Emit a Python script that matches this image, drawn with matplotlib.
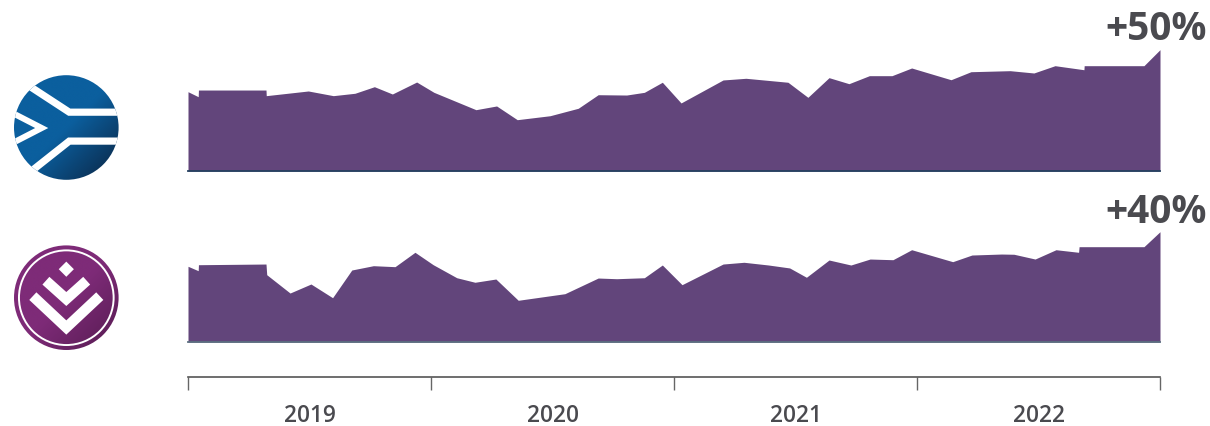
import matplotlib
matplotlib.use("Agg")
import matplotlib.pyplot as plt
import numpy as np
from matplotlib.patches import Circle, Polygon
from matplotlib.lines import Line2D
from matplotlib.colors import LinearSegmentedColormap

# ---------------- data ----------------
year_labels = ["2019", "2020", "2021", "2022"]
year_edges = [2019, 2020, 2021, 2022, 2023]

# top series (index, start = 100), time in decimal years
top_t = [2019.000, 2019.042, 2019.043, 2019.321, 2019.322, 2019.495, 2019.598, 2019.687,
         2019.767, 2019.841, 2019.941, 2020.012, 2020.185, 2020.270, 2020.355, 2020.490,
         2020.606, 2020.688, 2020.805, 2020.878, 2020.952, 2021.029, 2021.202, 2021.296,
         2021.469, 2021.551, 2021.638, 2021.720, 2021.804, 2021.897, 2021.978, 2022.140,
         2022.222, 2022.383, 2022.481, 2022.568, 2022.687, 2022.688, 2022.934, 2023.000]
top_v = [100.0, 93.7, 102.1, 102.1, 95.0, 100.9, 95.0, 98.0,
         106.3, 97.1, 112.2, 99.2, 77.3, 82.0, 64.7, 69.7,
         79.1, 96.2, 95.8, 99.2, 111.9, 85.8, 114.8, 116.9,
         111.9, 92.9, 117.7, 110.1, 120.2, 120.2, 129.9, 115.1,
         125.2, 126.5, 123.6, 132.8, 127.7, 132.8, 132.8, 153.0]

# bottom series (index, start = 100)
bot_t = [2019.000, 2019.042, 2019.043, 2019.321, 2019.324, 2019.420, 2019.506, 2019.595,
         2019.674, 2019.763, 2019.852, 2019.934, 2020.009, 2020.106, 2020.181, 2020.267,
         2020.359, 2020.551, 2020.688, 2020.764, 2020.878, 2020.952, 2021.033, 2021.202,
         2021.288, 2021.389, 2021.476, 2021.545, 2021.638, 2021.728, 2021.807, 2021.901,
         2021.978, 2022.147, 2022.226, 2022.348, 2022.399, 2022.486, 2022.572, 2022.665,
         2022.667, 2022.934, 2023.000]
bot_v = [100.0, 94.2, 102.1, 103.0, 88.9, 64.7, 76.6, 58.5,
         95.1, 100.8, 99.5, 118.5, 102.1, 84.9, 78.9, 83.2,
         55.1, 63.8, 84.5, 83.6, 84.9, 101.7, 75.7, 103.0,
         105.3, 101.7, 97.8, 85.5, 108.3, 101.7, 109.6, 108.7,
         121.9, 106.1, 114.9, 116.2, 115.9, 109.6, 121.9, 118.5,
         125.9, 125.9, 145.7]

top_label = "+50%"
bot_label = "+40%"

# ---------------- style ----------------
W, H, DPI = 1210, 427, 100
AREA = "#62457b"
TEXT = "#4a4a4f"
FONT = ["Open Sans", "DejaVu Sans"]
plt.rcParams["font.family"] = FONT

fig = plt.figure(figsize=(W / DPI, H / DPI), dpi=DPI)
fig.patch.set_facecolor("white")


def px_axes(x0, y0, x1, y1):
    """axes from a pixel box (y measured from the top)"""
    return fig.add_axes([x0 / W, 1 - y1 / H, (x1 - x0) / W, (y1 - y0) / H])


def area_axes(y_top, y_base, px_per_100, t, v, base_color):
    ax = px_axes(188, y_top, 1160, y_base)
    ax.fill_between(t, 0, v, color=AREA, linewidth=0, zorder=2)
    ax.set_xlim(year_edges[0], year_edges[-1])
    ax.set_ylim(0, (y_base - y_top) / px_per_100 * 100)
    ax.axhline(0, color=base_color, lw=1.3, clip_on=False, zorder=3)
    ax.axis("off")
    return ax


area_axes(40, 172, 79.3, top_t, top_v, "#24405f")
area_axes(211, 343, 75.7, bot_t, bot_v, "#5b6f80")

fig.text(1207 / W, 1 - 40 / H, top_label, ha="right", va="baseline",
         fontsize=28, fontweight="bold", color=TEXT)
fig.text(1207 / W, 1 - 223 / H, bot_label, ha="right", va="baseline",
         fontsize=28, fontweight="bold", color=TEXT)

# ---------------- x axis ----------------
axx = px_axes(188, 360, 1160, 378)
axx.patch.set_visible(False)
for s in ("top", "left", "right"):
    axx.spines[s].set_visible(False)
axx.spines["bottom"].set_color("#555555")
axx.spines["bottom"].set_linewidth(1.2)
axx.set_xlim(year_edges[0], year_edges[-1])
axx.set_yticks([])
axx.set_xticks(year_edges)
axx.set_xticks([y + 0.5 for y in year_edges[:-1]], minor=True)
axx.set_xticklabels([], minor=False)
axx.set_xticklabels(year_labels, minor=True)
axx.tick_params(axis="x", which="major", length=9.5, width=1.0, color="#666666",
                direction="out")
axx.tick_params(axis="x", which="minor", length=0, pad=18.5, labelsize=16.3,
                labelcolor=TEXT)
for lab in axx.get_xticklabels(minor=True):
    lab.set_fontweight("semibold")


# ---------------- logos ----------------
def logo_axes(cx, cy, r):
    ax = px_axes(cx - r, cy - r, cx + r, cy + r)
    ax.set_xlim(-1, 1)
    ax.set_ylim(-1, 1)
    ax.set_aspect("equal")
    ax.axis("off")
    return ax


def gradient_disc(ax, c_light, c_dark):
    circ = Circle((0, 0), 1, facecolor="none", edgecolor="none")
    ax.add_patch(circ)
    g = np.linspace(-1, 1, 200)
    U, V = np.meshgrid(g, g)
    G = (U - V)
    cmap = LinearSegmentedColormap.from_list("g", [c_light, c_light, c_dark])
    im = ax.imshow(G, extent=(-1, 1, -1, 1), origin="lower", cmap=cmap,
                   vmin=-2, vmax=2, interpolation="bilinear", zorder=1)
    im.set_clip_path(circ)
    return circ


def white_line(ax, pts, width_px, clip):
    xs, ys = zip(*pts)
    ln = Line2D(xs, ys, color="white", lw=width_px * 0.72, solid_capstyle="butt",
                solid_joinstyle="miter", zorder=3)
    ax.add_line(ln)
    ln.set_clip_path(clip)


R = 52.3
# top logo (blue)
axl1 = logo_axes(66.3, 128.5, R)
c1 = gradient_disc(axl1, "#0b5f9e", "#0b2442")
white_line(axl1, [(-1.04, 1.01), (0.057, 0.293), (1.2, 0.293)], 7.2, c1)
white_line(axl1, [(-0.89, -1.01), (0.057, -0.26), (1.2, -0.26)], 7.2, c1)
white_line(axl1, [(-1.15, 0.34), (-0.47, -0.01), (-1.15, -0.36)], 6.0, c1)

# bottom logo (purple)
axl2 = logo_axes(66.3, 298.7, R)
c2 = gradient_disc(axl2, "#7e2b78", "#561b51")
ring = Circle((0, 0), 0.905, facecolor="none", edgecolor="white", lw=1.4, zorder=3)
axl2.add_patch(ring)
axl2.add_patch(Polygon([(0, 0.69), (0.145, 0.545), (0, 0.40), (-0.145, 0.545)],
                       closed=True, facecolor="white", edgecolor="none", zorder=3))
white_line(axl2, [(-0.39, 0.325), (0, -0.025), (0.39, 0.325)], 10.4, c2)
white_line(axl2, [(-0.64, 0.03), (0, -0.57), (0.64, 0.03)], 10.4, c2)

fig.savefig("out.png", dpi=DPI, facecolor="white")
